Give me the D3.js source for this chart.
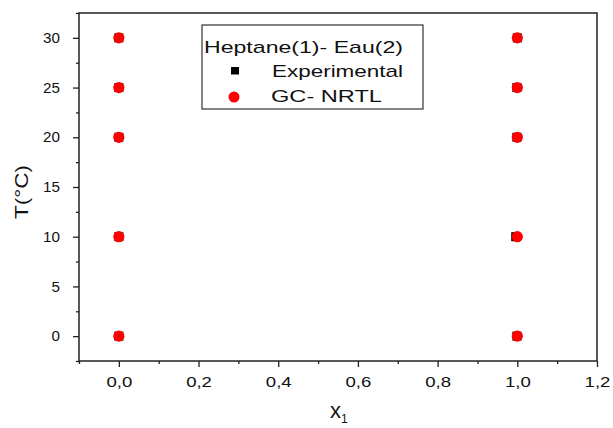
<!DOCTYPE html>
<html>
<head>
<meta charset="utf-8">
<script src="https://cdn.jsdelivr.net/npm/d3@7"></script>
<style>
  body { margin: 0; background: #fff; }
  svg { display: block; font-family: "Liberation Sans", Arial, sans-serif; }
</style>
</head>
<body>
<svg id="chart" width="613" height="428"></svg>
<script>
// Heptane(1) - Eau(2) mutual solubility: temperature vs mole fraction x1
const temperatures = [0, 10, 20, 25, 30];
const expLeftX  = [0.0, 0.0, 0.0, 0.0, 0.0];
const expRightX = [0.999, 0.996, 0.999, 0.999, 1.0];
const nrtlLeftX  = [0.0, 0.0, 0.0, 0.0, 0.0];
const nrtlRightX = [1.0, 1.0, 1.0, 1.0, 1.0];
const xTicks = [0.0, 0.2, 0.4, 0.6, 0.8, 1.0, 1.2];
const yTicks = [0, 5, 10, 15, 20, 25, 30];

const experimental = temperatures.map((t, i) => ({ x: expLeftX[i], t }))
  .concat(temperatures.map((t, i) => ({ x: expRightX[i], t })));
const nrtl = temperatures.map((t, i) => ({ x: nrtlLeftX[i], t }))
  .concat(temperatures.map((t, i) => ({ x: nrtlRightX[i], t })));

const svg = d3.select("#chart");
const m = { left: 79, top: 13, right: 597, bottom: 361 };

const x = d3.scaleLinear().domain([-0.1, 1.2]).range([m.left, m.right]);
const y = d3.scaleLinear().domain([-2.5, 32.5]).range([m.bottom, m.top]);

const fmt = d => d3.format(".1f")(d).replace(".", ",");

// widen glyphs along the baseline by factor k
function stretch(sel, k) {
  sel.each(function () {
    const w = this.getComputedTextLength();
    d3.select(this).attr("textLength", w * k).attr("lengthAdjust", "spacingAndGlyphs");
  });
}

// frame
svg.append("rect")
  .attr("x", m.left).attr("y", m.top)
  .attr("width", m.right - m.left).attr("height", m.bottom - m.top)
  .attr("fill", "none").attr("stroke", "#222").attr("stroke-width", 1.5);

// x axis: major + minor ticks
const xMinor = d3.range(-0.1, 1.21, 0.2).map(v => +v.toFixed(2));
const xAxis = svg.append("g").attr("transform", `translate(0,${m.bottom})`);
xAxis.call(d3.axisBottom(x).tickValues(xMinor).tickSize(3).tickFormat(""))
  .call(g => g.select(".domain").remove());
xAxis.append("g")
  .call(d3.axisBottom(x).tickValues(xTicks).tickSize(6).tickPadding(10).tickFormat(fmt))
  .call(g => g.select(".domain").remove())
  .call(g => g.selectAll("text").attr("font-size", 14.5).attr("fill", "#111")
    .attr("font-family", "Liberation Sans, Arial, sans-serif"))
  .call(g => stretch(g.selectAll("text"), 1.28));

// y axis: major + minor ticks
const yMinor = d3.range(-2.5, 32.6, 5);
const yAxis = svg.append("g").attr("transform", `translate(${m.left},0)`);
yAxis.call(d3.axisLeft(y).tickValues(yMinor).tickSize(3).tickFormat(""))
  .call(g => g.select(".domain").remove());
yAxis.append("g")
  .call(d3.axisLeft(y).tickValues(yTicks).tickSize(6).tickPadding(13))
  .call(g => g.select(".domain").remove())
  .call(g => g.selectAll("text").attr("font-size", 14.5).attr("fill", "#111")
    .attr("font-family", "Liberation Sans, Arial, sans-serif"))
  .call(g => stretch(g.selectAll("text"), 1.05));
svg.selectAll(".tick line").attr("stroke", "#222").attr("stroke-width", 1.3);

// axis titles
const yl = svg.append("text")
  .attr("transform", `translate(28,192) rotate(-90)`)
  .attr("text-anchor", "middle").attr("font-size", 18).attr("fill", "#111")
  .text("T(°C)");
stretch(yl, 1.25);
const xl = svg.append("text")
  .attr("x", 330).attr("y", 418).attr("font-size", 22).attr("fill", "#111");
xl.append("tspan").text("x");
xl.append("tspan").attr("font-size", 12).attr("dy", 5).text("1");

// experimental points (squares)
const sq = 9;
svg.append("g").selectAll("rect").data(experimental).join("rect")
  .attr("x", d => x(d.x) - sq / 2).attr("y", d => y(d.t) - sq / 2)
  .attr("width", sq).attr("height", sq).attr("fill", "#000");

// GC-NRTL points (circles)
svg.append("g").selectAll("circle").data(nrtl).join("circle")
  .attr("cx", d => x(d.x)).attr("cy", d => y(d.t)).attr("r", 5.6)
  .attr("fill", "#ff0000");

// legend
const lg = svg.append("g");
lg.append("rect").attr("x", 202).attr("y", 25).attr("width", 221).attr("height", 84)
  .attr("fill", "#fff").attr("stroke", "#333").attr("stroke-width", 1.2);
lg.append("text").attr("x", 204).attr("y", 53).attr("font-size", 17).attr("fill", "#111")
  .attr("textLength", 199).attr("lengthAdjust", "spacingAndGlyphs")
  .text("Heptane(1)- Eau(2)");
lg.append("rect").attr("x", 231).attr("y", 67).attr("width", 8).attr("height", 7.5).attr("fill", "#000");
lg.append("text").attr("x", 272).attr("y", 77).attr("font-size", 17).attr("fill", "#111")
  .attr("textLength", 131).attr("lengthAdjust", "spacingAndGlyphs")
  .text("Experimental");
lg.append("circle").attr("cx", 234).attr("cy", 97).attr("r", 5.5).attr("fill", "#ff0000");
lg.append("text").attr("x", 271).attr("y", 102).attr("font-size", 17).attr("fill", "#111")
  .attr("textLength", 111).attr("lengthAdjust", "spacingAndGlyphs")
  .text("GC- NRTL");
</script>
</body>
</html>
